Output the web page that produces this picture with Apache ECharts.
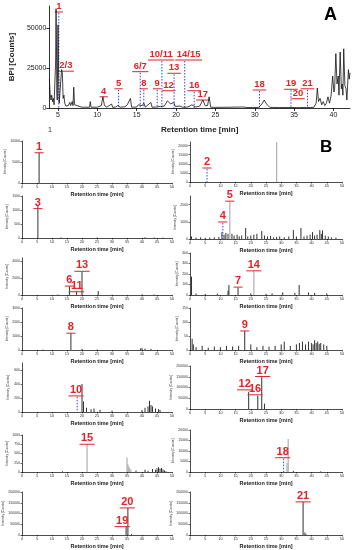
<!DOCTYPE html>
<html><head><meta charset="utf-8">
<script src="https://cdn.jsdelivr.net/npm/echarts@6/dist/echarts.min.js"></script>
<style>html,body{margin:0;padding:0;background:#fff}#c{width:355px;height:550px}</style>
</head><body><div id="c"></div><script>
// ---------- DATA ----------
// Panel A: base peak chromatogram [time(min), BPI counts]
const chromA = [[3.9,18000],[4.0,9000],[4.1,5000],[4.2,8000],[4.3,4000],[4.4,6000],[4.5,2000],[4.6,1500],[4.7,30000],[4.75,62000],[4.8,40000],[4.85,10000],[4.9,5000],[5.0,52000],[5.08,20000],[5.15,3000],[5.3,2000],[5.45,24000],[5.55,22000],[5.65,6000],[5.75,8000],[5.85,3000],[6.0,1200],[6.3,1500],[6.5,3500],[6.6,1500],[6.8,4000],[6.9,1500],[7.0,13000],[7.1,2000],[7.3,800],[8.0,500],[9.0,500],[9.1,4000],[9.2,500],[10.0,500],[10.5,1500],[10.7,7000],[10.9,1500],[11.2,500],[11.8,2500],[11.95,400],[12.3,600],[12.6,1500],[12.9,500],[13.5,800],[13.8,2000],[14.0,800],[14.2,6000],[14.35,500],[15.0,600],[15.2,2000],[15.4,800],[15.7,1500],[15.9,3000],[16.1,600],[16.8,3500],[16.95,500],[17.5,600],[18.0,1000],[18.5,1200],[18.9,4500],[19.1,4000],[19.3,2500],[19.5,3000],[19.7,3500],[19.9,1000],[20.5,1200],[20.8,500],[21.5,600],[22.0,2000],[22.2,1500],[22.5,600],[23.0,1200],[23.4,5000],[23.7,1500],[24.0,1500],[24.2,7000],[24.4,500],[25.0,400],[27.0,500],[27.2,300],[28.3,600],[28.6,600],[29.0,300],[30.5,400],[30.9,2500],[31.2,5000],[31.5,2500],[31.9,400],[33.0,300],[35.3,300],[35.5,1500],[35.7,300],[36.6,300],[36.7,1200],[36.8,300],[37.5,400],[37.8,3000],[37.95,12500],[38.1,4000],[38.3,6000],[38.5,2000],[38.7,4000],[38.9,1500],[39.1,3000],[39.3,7000],[39.5,3000],[39.7,8000],[39.9,20000],[40.05,10000],[40.15,12000],[40.3,34000],[40.45,15000],[40.6,20000],[40.7,8000],[40.85,35000],[41.0,12000],[41.1,15000],[41.2,8000],[41.3,37000],[41.45,14000],[41.6,12000],[41.7,5000],[41.9,24000],[42.0,18000],[42.1,22000]];
// [text, time, underline level, dotted guide, text shift in minutes]
const labelsA = [['1',5.1,60000,1,0],['2/3',6.0,23000,0,0],['4',10.8,7000,0,0],['5',12.7,12000,1,0],['6/7',15.45,22700,1,0],['8',15.9,12000,1,0],['9',17.6,12000,1,0],['10/11',18.2,30000,1,-0.1],['12',19.05,10800,0,0],['13',19.75,21700,1,0],['14/15',21.1,30000,1,0.5],['16',22.3,10800,1,0],['17',23.4,5000,0,0],['18',30.6,11250,1,0],['19',34.6,11700,1,0],['20',35.5,5800,0,0],['21',36.7,12000,1,0]];
const ticksA_x = [5,10,15,20,25,30,35,40];
const ticksA_y = [0,25000,50000];

// Panel B: extracted ion chromatograms, sticks [time, intensity]
const p1 = [[5.7,7200]];
const p1Gray = [];
const p2 = [];
const p2Gray = [[28.5,21800]];
const p3 = [[5.3,1150],[13,20],[25,15],[41,25],[44,20],[47,15]];
const p3Gray = [];
const p45 = [[0.5,150],[2,80],[3.5,100],[5,60],[6.5,80],[8,100],[9.5,120],[10.5,400],[11.2,250],[11.8,350],[12.5,300],[13.8,300],[14.5,200],[15.5,250],[16.2,150],[17,200],[18.3,640],[19,150],[20,200],[21,250],[22,300],[23.6,460],[24.5,200],[25.5,150],[26.5,180],[27.5,100],[28.5,120],[29.5,150],[31,100],[32.5,150],[34,520],[35,150],[36.5,640],[37.5,150],[38.5,200],[39.5,250],[40.3,400],[41,200],[41.8,250],[42.7,520],[43.2,300],[43.6,500],[44.5,200],[45.5,150],[46.5,100],[48,80]];
const p45Gray = [[13.1,2200]];
const p613 = [[12,60],[15.8,1060],[18.2,390],[20.0,2820],[25.4,470],[30,40],[40,80],[44,60]];
const p613Gray = [];
const p714 = [[0.5,175],[2,15],[5,10],[9,12],[12.5,40],[12.8,95],[15.8,70],[20,15],[25,10],[27,15],[30.5,25],[34.5,20],[35.9,95],[39,25],[41,20],[45,15]];
const p714Gray = [[21,230]];
const p8 = [[7,30],[16.3,1200],[20,80],[25,30],[39.5,100],[40,150],[41,100],[43,80]];
const p8Gray = [];
const p9 = [[0.7,40],[1.1,20],[2,10],[4,15],[6,8],[8,12],[10,10],[12,15],[14,12],[16,15],[18,68],[20,20],[22,10],[24,15],[26,12],[28,15],[30,20],[31,30],[33,15],[35,20],[36,25],[37,30],[38,20],[39,30],[40,25],[40.5,20],[41,35],[41.5,25],[42,30],[42.5,22],[43,25],[44,20],[45,15]];
const p9Gray = [];
const p10 = [[20,400],[20.5,150],[21.5,60],[23,40],[24,50],[26,30],[30,20],[40,30],[41,60],[42,80],[42.5,160],[43,100],[43.5,80],[44.5,50],[45.5,40],[46,30]];
const p10Gray = [];
const p121617 = [[19.3,80000],[22.3,62000],[23.6,148000],[24.5,25000]];
const p121617Gray = [];
const p15 = [[13.5,20],[38,40],[41,60],[42,30],[43.5,80],[44.5,60],[45,100],[45.5,130],[46,90],[46.5,110],[47,70],[47.5,40],[48,20]];
const p15Gray = [[21.7,750],[35,390],[35.3,200],[35.6,150],[35.9,100],[36.3,60]];
const p18 = [[34,500],[43,300]];
const p18Gray = [[31.9,4300],[32.3,15700]];
const p1920 = [[34.7,39000],[35.3,126000],[36.5,4000]];
const p1920Gray = [];
const p21 = [[37.2,154000],[37.8,12000],[38.2,3000]];
const p21Gray = [];

const lab1 = [['1',5.7,7200,0,0]];
const lab2 = [['2',5.6,7700,1,0]];
const lab3 = [['3',5.3,1050,0,0]];
const lab45 = [['5',13.1,2200,0,0],['4',10.8,990,1,0]];
const lab613 = [['6',15.8,1060,0,0],['11',18.3,390,0,0],['13',20.0,2820,0,0]];
const lab714 = [['7',15.8,75,0,0],['14',21,230,0,0]];
const lab8 = [['8',16.3,1200,0,0]];
const lab9 = [['9',18,68,0,0]];
const lab10 = [['10',18.4,230,1,-0.4]];
const lab121617 = [['12',18,89000,0,0],['16',21.4,66000,0,0],['17',23.9,151000,0,0]];
const lab15 = [['15',21.7,750,0,0]];
const lab18 = [['18',30.8,6800,1,-0.3]];
const lab1920 = [['19',33.4,39000,0,0],['20',35.1,126000,0,0]];
const lab21 = [['21',37.2,154000,0,0]];

const ticksB_x = [0,5,10,15,20,25,30,35,40,45,50];
const yt1 = [0,5000,10000], yt2 = [0,5000,10000,15000,20000], yt3 = [0,500,1000,1500], yt45 = [0,1000,2000];
const yt613 = [0,2000,4000], yt714 = [0,100,200,300,400], yt8 = [0,1000,2000,3000], yt9 = [0,50,100,150];
const yt10 = [0,200,400,600], yt200k = [0,50000,100000,150000,200000], yt15 = [0,250,500,750,1000], yt18 = [0,5000,10000,15000,20000];

// ---------- RENDER ----------
const FONT = '"Liberation Sans", Arial, sans-serif';
const RED = '#e4222a', BLUE = '#3246e0';
const plain = v => String(v);
const ctx = document.createElement('canvas').getContext('2d');
function tw(t, fs){ ctx.font = 'bold ' + fs + 'px ' + FONT; return ctx.measureText(t).width; }

const grids = [], xAxes = [], yAxes = [], series = [];

function labelSeries(list, idx, fs) {
  return {type:'custom', xAxisIndex:idx, yAxisIndex:idx, silent:true, animation:false, clip:false,
    data: list.map(l => [l[1], l[2], l[1] + l[4]]), encode:{x:0, y:1},
    renderItem: (params, api) => {
      const item = list[params.dataIndex];
      const p = api.coord([api.value(0), api.value(1)]);
      const q = api.coord([api.value(2), api.value(1)]);
      const b = api.coord([api.value(0), 0]);
      const w = tw(item[0], fs) + 3;
      const ch = [
        {type:'text', x:q[0], y:p[1]-0.5, style:{text:item[0], fill:RED, font:'bold '+fs+'px '+FONT, align:'center', verticalAlign:'bottom'}},
        {type:'line', shape:{x1:q[0]-w/2, y1:p[1], x2:q[0]+w/2, y2:p[1]}, style:{stroke:RED, lineWidth:1}}
      ];
      if (item[3]) ch.push({type:'line', shape:{x1:p[0], y1:p[1]+1, x2:b[0], y2:b[1]}, style:{stroke:BLUE, lineWidth:1, lineDash:[1.5,1.5]}});
      return {type:'group', children:ch};
    }};
}
function stickSeries(data, idx, color, width) {
  return {type:'custom', xAxisIndex:idx, yAxisIndex:idx, silent:true, animation:false,
    data: data, encode:{x:0, y:1},
    renderItem: (params, api) => {
      const t = api.coord([api.value(0), api.value(1)]);
      const b = api.coord([api.value(0), 0]);
      return {type:'line', shape:{x1:t[0], y1:t[1], x2:b[0], y2:b[1]}, style:{stroke:color, lineWidth:width}};
    }};
}

// Panel A
grids.push({left:41, top:6, width:309, height:102});
xAxes.push({type:'value', gridIndex:0, min:3.9, max:42.1, splitLine:{show:false},
  axisLine:{lineStyle:{color:'#000', width:0.8}},
  axisTick:{customValues:ticksA_x, length:3, lineStyle:{color:'#000', width:0.8}},
  axisLabel:{customValues:ticksA_x, formatter:plain, fontSize:7, color:'#222', margin:4, fontFamily:FONT},
  name:'Retention time [min]', nameLocation:'middle', nameGap:18, nameTextStyle:{fontSize:8, fontWeight:'bold', color:'#222', fontFamily:FONT}});
yAxes.push({type:'value', gridIndex:0, min:0, max:63750, splitLine:{show:false},
  axisLine:{show:true, lineStyle:{color:'#000', width:0.8}},
  axisTick:{show:true, customValues:ticksA_y, length:3, lineStyle:{color:'#000', width:0.8}},
  axisLabel:{customValues:ticksA_y, formatter:plain, fontSize:7, color:'#222', margin:3, fontFamily:FONT},
  name:'BPI [Counts]', nameLocation:'middle', nameGap:31, nameTextStyle:{fontSize:8, fontWeight:'bold', color:'#222', fontFamily:FONT}});
series.push({type:'line', xAxisIndex:0, yAxisIndex:0, data:chromA, symbol:'none', animation:false, silent:true,
  lineStyle:{color:'#111', width:0.8}});
series.push(labelSeries(labelsA, 0, 9.5));

// Panel B layout
const LX = [22, 190], LW = [150, 152];
const panels = [
  {col:0, top:141, bottom:183, max:10000, yt:yt1, black:p1, gray:p1Gray, lab:lab1, yGap:12},
  {col:1, top:142, bottom:182, max:22000, yt:yt2, black:p2, gray:p2Gray, lab:lab2, yGap:11},
  {col:0, top:196, bottom:238, max:1500, yt:yt3, black:p3, gray:p3Gray, lab:lab3, yGap:12},
  {col:1, top:196, bottom:239, max:2500, yt:yt45, black:p45, gray:p45Gray, lab:lab45, yGap:11},
  {col:0, top:258, bottom:295, max:4400, yt:yt613, black:p613, gray:p613Gray, lab:lab613, yGap:12},
  {col:1, top:253, bottom:295, max:400, yt:yt714, black:p714, gray:p714Gray, lab:lab714, yGap:11},
  {col:0, top:308, bottom:350, max:3000, yt:yt8, black:p8, gray:p8Gray, lab:lab8, yGap:12},
  {col:1, top:308, bottom:350, max:150, yt:yt9, black:p9, gray:p9Gray, lab:lab9, yGap:11},
  {col:0, top:363, bottom:412, max:700, yt:yt10, black:p10, gray:p10Gray, lab:lab10, yGap:12},
  {col:1, top:366, bottom:409, max:200000, yt:yt200k, black:p121617, gray:p121617Gray, lab:lab121617, yGap:12},
  {col:0, top:435, bottom:472, max:1000, yt:yt15, black:p15, gray:p15Gray, lab:lab15, yGap:12},
  {col:1, top:430, bottom:472, max:20000, yt:yt18, black:p18, gray:p18Gray, lab:lab18, yGap:11},
  {col:0, top:492, bottom:535, max:200000, yt:yt200k, black:p1920, gray:p1920Gray, lab:lab1920, yGap:12},
  {col:1, top:492, bottom:535, max:200000, yt:yt200k, black:p21, gray:p21Gray, lab:lab21, yGap:12}
];
panels.forEach(pn => {
  const i = grids.length;
  grids.push({left:LX[pn.col], width:LW[pn.col], top:pn.top, height:pn.bottom - pn.top});
  xAxes.push({type:'value', gridIndex:i, min:0, max:50, splitLine:{show:false},
    axisLine:{lineStyle:{color:'#000', width:0.7}},
    axisTick:{customValues:ticksB_x, length:1.5, lineStyle:{color:'#000', width:0.6}},
    axisLabel:{customValues:ticksB_x, formatter:plain, fontSize:4, color:'#333', margin:2, fontFamily:FONT},
    name:'Retention time [min]', nameLocation:'middle', nameGap:8, nameTextStyle:{fontSize:5.5, fontWeight:'bold', color:'#222', fontFamily:FONT}});
  yAxes.push({type:'value', gridIndex:i, min:0, max:pn.max, splitLine:{show:false},
    axisLine:{show:true, lineStyle:{color:'#000', width:0.7}},
    axisTick:{show:true, customValues:pn.yt, length:1.5, lineStyle:{color:'#000', width:0.6}},
    axisLabel:{customValues:pn.yt, formatter:plain, fontSize:3.5, color:'#333', margin:2, fontFamily:FONT},
    name:'Intensity [Counts]', nameLocation:'middle', nameGap:pn.yGap, nameTextStyle:{fontSize:3.2, color:'#333', fontFamily:FONT}});
  series.push(stickSeries(pn.gray, i, '#b0b0b0', 1.2));
  series.push(stickSeries(pn.black, i, '#1a1a1a', 0.9));
  series.push(labelSeries(pn.lab, i, 11));
});

const chart = echarts.init(document.getElementById('c'), null, {renderer:'canvas'});
chart.setOption({
  animation:false,
  grid:grids, xAxis:xAxes, yAxis:yAxes, series:series,
  graphic:[
    {type:'text', left:324, top:6, style:{text:'A', font:'bold 18px '+FONT, fill:'#000'}},
    {type:'text', left:320, top:139, style:{text:'B', font:'bold 17px '+FONT, fill:'#000'}},
    {type:'text', left:48, top:127, style:{text:'1', font:'7px '+FONT, fill:'#333'}}
  ]
});
</script></body></html>
